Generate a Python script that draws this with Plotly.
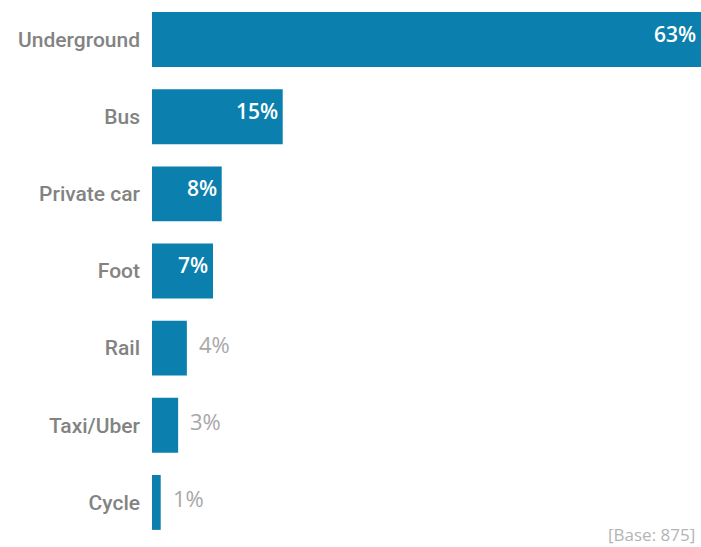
import plotly.graph_objects as go

# Share of respondents by main mode of transport
modes = ["Underground", "Bus", "Private car", "Foot", "Rail", "Taxi/Uber", "Cycle"]
shares = [63, 15, 8, 7, 4, 3, 1]
inside_label = [True, True, True, True, False, False, False]

BAR = "#0b7fad"
LABEL_GREY = "#838383"
VALUE_GREY = "#a8a8a8"
FONT = "Open Sans"
LABEL_FONT = "Roboto"

fig = go.Figure(
    go.Bar(
        x=shares,
        y=modes,
        orientation="h",
        marker=dict(color=BAR, line=dict(width=0)),
        hoverinfo="skip",
    )
)

annotations = []
for m, v, ins in zip(modes, shares, inside_label):
    if ins:
        annotations.append(dict(
            x=v, y=m, xref="x", yref="y", text=f"{v}%", showarrow=False,
            xanchor="right", xshift=-3, yshift=6,
            font=dict(family=FONT, size=21, color="white", weight=600),
        ))
    else:
        annotations.append(dict(
            x=v, y=m, xref="x", yref="y", text=f"{v}%", showarrow=False,
            xanchor="left", xshift=10, yshift=4,
            font=dict(family=FONT, size=22, color=VALUE_GREY),
        ))

annotations.append(dict(
    x=1, y=0, xref="paper", yref="paper", text="[Base: 875]", showarrow=False,
    xanchor="right", yanchor="bottom", xshift=-4, yshift=-7,
    font=dict(family=FONT, size=17, color="#b4b4b4"),
))

fig.update_layout(
    width=701,
    height=547,
    margin=dict(l=152, r=0, t=1, b=6),
    paper_bgcolor="white",
    plot_bgcolor="white",
    bargap=0.288,
    showlegend=False,
    annotations=annotations,
    xaxis=dict(range=[0, 63], visible=False, fixedrange=True),
    yaxis=dict(
        categoryorder="array",
        categoryarray=modes,
        autorange="reversed",
        showgrid=False,
        showline=False,
        zeroline=False,
        ticks="",
        ticklabelstandoff=11,
        tickfont=dict(family=LABEL_FONT, size=21, color=LABEL_GREY, weight=500),
    ),
)

fig.write_html("out.html")
